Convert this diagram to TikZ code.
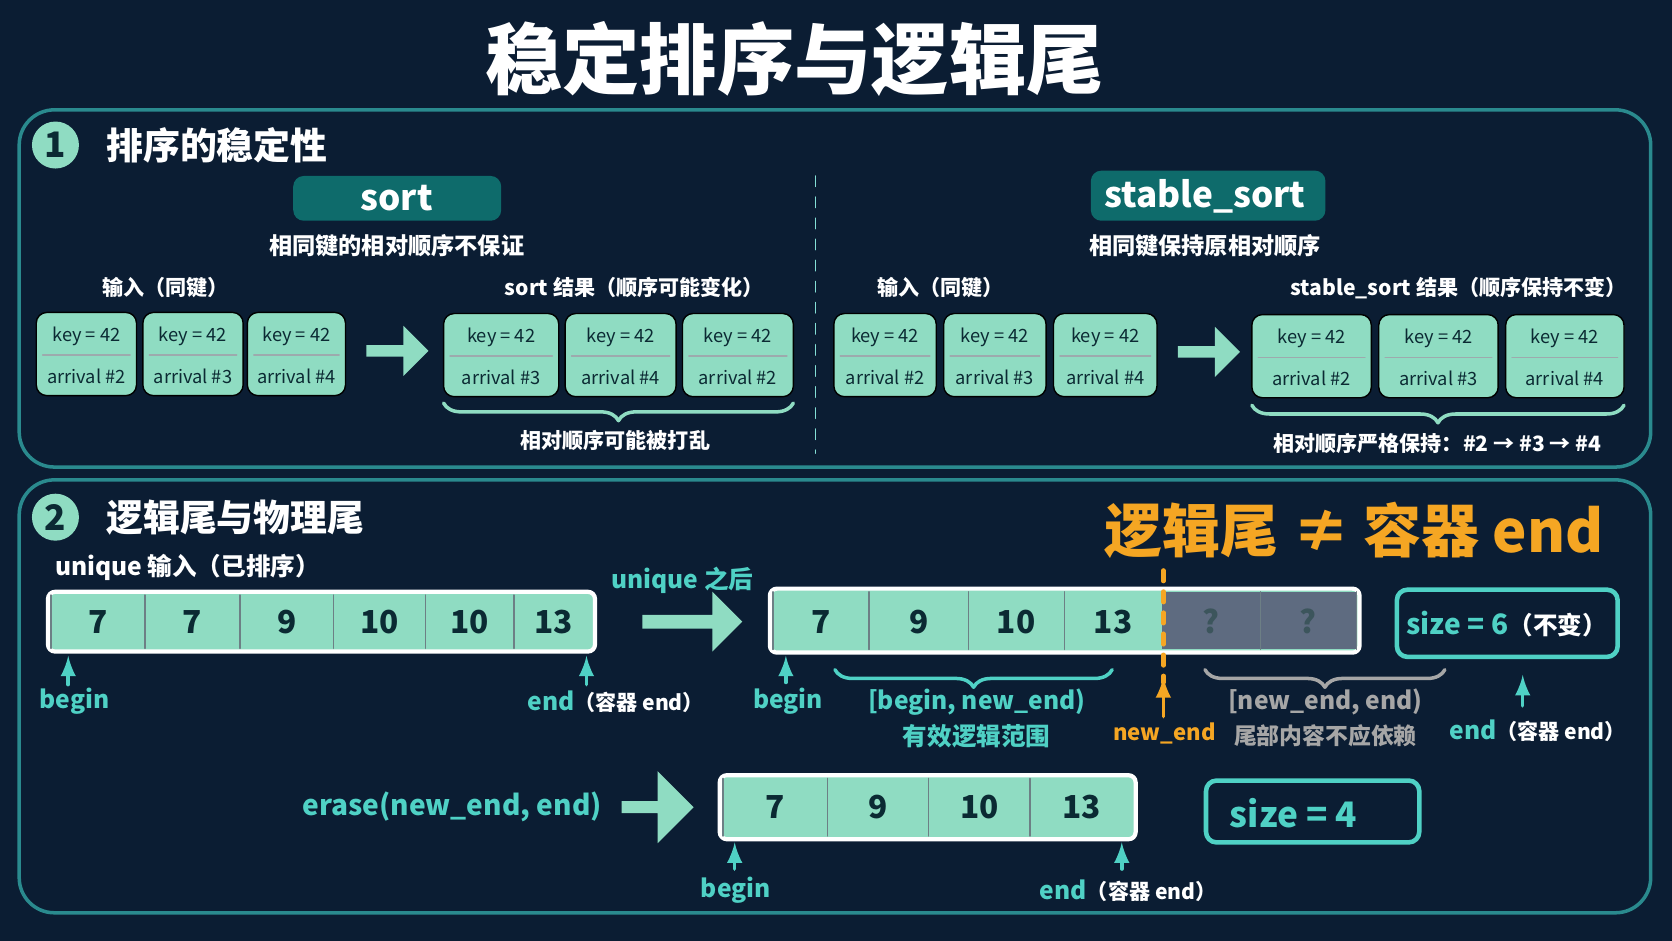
\documentclass[tikz,border=0pt]{standalone}
\usepackage{fontspec}
\setmainfont{Noto Sans CJK SC}
\usetikzlibrary{positioning,shapes.arrows,decorations.pathreplacing}
\definecolor{bg}{HTML}{0B1D33}
\definecolor{mint}{HTML}{8FDCC2}
\definecolor{teal}{HTML}{4FD1C5}
\definecolor{tealbox}{HTML}{0E6B6B}
\definecolor{frame}{HTML}{2A8A8E}
\definecolor{orng}{HTML}{F5A623}
\definecolor{grey}{HTML}{5E6B80}
\definecolor{ink}{HTML}{0B2A33}
\tikzset{
  panel/.style={draw=frame,line width=1pt,rounded corners=10pt},
  card/.style={fill=mint,rounded corners=3pt},
  cardtxt/.style={text=ink,font=\fontsize{5.2}{6}\selectfont},
  lbl/.style={text=white,font=\bfseries\fontsize{6}{7}\selectfont},
  tl/.style={text=teal,font=\bfseries\fontsize{7}{8}\selectfont},
  gl/.style={text=gray!70,font=\bfseries\fontsize{7}{8}\selectfont},
  num/.style={text=ink,font=\bfseries\fontsize{9}{11}\selectfont},
  blk/.style={single arrow,fill=mint,single arrow head extend=4pt,minimum height=0.62cm,minimum width=0.5cm,inner sep=1pt},
  up/.style={-latex,teal,line width=1pt},
  brc/.style={decorate,decoration={brace,mirror,amplitude=5pt},line width=1pt},
}
\newcommand*{\keycard}[5]{% x1, x2, top, name, arrival
    \draw[card] (#1,#3) rectangle (#2,#3+78);
    \draw[ink!40] (#1+6,#3+40) -- (#2-6,#3+40);
    \node[cardtxt] (#4k) at ({(#1+#2)/2},#3+22) {key = 42};
    \node[cardtxt] (#4a) at ({(#1+#2)/2},#3+60) {arrival \##5};
}
\begin{document}
\begin{tikzpicture}[x=0.01066cm,y=-0.01066cm,line cap=round,line join=round]
    \fill[bg] (0,0) rectangle (1568,882);
    \useasboundingbox (0,0) rectangle (1568,882);
    \node[text=white,font=\bfseries\fontsize{22}{25}\selectfont] (title) at (745,55) {稳定排序与逻辑尾};
    \draw[panel] (18,103) rectangle (1548,438);
    \draw[panel] (18,450) rectangle (1548,856);
    % panel 1
    \node[circle,fill=mint,text=ink,minimum size=0.47cm,inner sep=0,font=\bfseries\fontsize{10}{12}\selectfont] (c1) at (52,136) {1};
    \node[anchor=west,text=white,font=\bfseries\fontsize{10.5}{12}\selectfont] (h1) at (88,136) {排序的稳定性};
    \draw[teal!70,dashed] (765,165) -- (765,425);
    \fill[tealbox,rounded corners=3pt] (275,165) rectangle (470,207);
    \node[text=white,font=\bfseries\fontsize{10}{12}\selectfont] (sort) at (372,186) {sort};
    \node[lbl,font=\bfseries\fontsize{6.6}{8}\selectfont] (sortd) at (372,230) {相同键的相对顺序不保证};
    \fill[tealbox,rounded corners=3pt] (1023,160) rectangle (1243,207);
    \node[text=white,font=\bfseries\fontsize{10}{12}\selectfont] (ssort) at (1130,184) {stable\_sort};
    \node[lbl,font=\bfseries\fontsize{6.6}{8}\selectfont] (ssortd) at (1130,230) {相同键保持原相对顺序};
    \node[lbl] (in1) at (155,270) {输入（同键）};
    \node[lbl] (out1) at (595,270) {sort 结果（顺序可能变化）};
    \node[lbl] (in2) at (882,270) {输入（同键）};
    \node[lbl] (out2) at (1368,270) {stable\_sort 结果（顺序保持不变）};
    \keycard{34}{128}{293}{a}{2}
    \keycard{134}{228}{293}{b}{3}
    \keycard{232}{324}{293}{c}{4}
    \node[blk] (ar1) at (370,329) {};
    \keycard{416}{524}{294}{d}{3}
    \keycard{530}{634}{294}{e}{4}
    \keycard{640}{744}{294}{f}{2}
    \draw[brc,mint] (416,378) -- (744,378);
    \node[lbl] (br1) at (577,413) {相对顺序可能被打乱};
    \keycard{782}{878}{294}{g}{2}
    \keycard{885}{981}{294}{h}{3}
    \keycard{988}{1085}{294}{i}{4}
    \node[blk] (ar2) at (1131,330) {};
    \keycard{1174}{1286}{295}{j}{2}
    \keycard{1293}{1405}{295}{k}{3}
    \keycard{1412}{1523}{295}{l}{4}
    \draw[brc,mint] (1174,380) -- (1523,380);
    \node[lbl] (br2) at (1348,416) {相对顺序严格保持：\#2 → \#3 → \#4};
    % panel 2
    \node[circle,fill=mint,text=ink,minimum size=0.47cm,inner sep=0,font=\bfseries\fontsize{10}{12}\selectfont] (c2) at (52,485) {2};
    \node[anchor=west,text=white,font=\bfseries\fontsize{10.5}{12}\selectfont] (h2) at (88,485) {逻辑尾与物理尾};
    \node[text=orng,font=\bfseries\fontsize{16.5}{20}\selectfont] (ne) at (1270,497) {逻辑尾 ≠ 容器 end};
    \node[anchor=west,lbl,font=\bfseries\fontsize{7}{8}\selectfont] (uin) at (40,532) {unique 输入（已排序）};
    \draw[white,line width=1.2pt,rounded corners=2pt,fill=mint] (45,555) rectangle (558,611);
    \foreach \a/\b/\v [count=\i] in {48/136/7,136/225/7,225/313/9,313/399/10,399/482/10,482/556/13}{
        \draw[ink!60] (\a,558) -- (\a,608);
        \node[num] (u\i) at ({(\a+\b)/2},583) {\v};
    }
    \coordinate (ub) at (64,642);
    \coordinate (ue) at (550,642);
    \draw[up] (ub) -- (64,615);
    \draw[up] (ue) -- (550,615);
    \node[tl] (ubl) at (70,658) {begin};
    \node[tl,anchor=west] (uel) at (483,658) {end\textcolor{white}{\fontsize{6}{7}\selectfont（容器 end）}};
    \node[tl] (aft) at (640,544) {unique 之后};
    \node[blk,minimum height=1.0cm,minimum width=0.6cm] (ar3) at (646,583) {};
    \draw[white,line width=1.2pt,rounded corners=2pt,fill=mint] (722,552) rectangle (1275,612);
    \fill[grey] (1090,555) rectangle (1272,609);
    \foreach \a/\b/\v [count=\i] in {725/815/7,815/908/9,908/998/10,998/1090/13}{
        \draw[ink!60] (\a,555) -- (\a,609);
        \node[num] (v\i) at ({(\a+\b)/2},583) {\v};
    }
    \foreach \a/\b [count=\i] in {1090/1182,1182/1272}{
        \draw[ink!60] (\b,555) -- (\b,609);
        \node[num,text=ink!80] (q\i) at ({(\a+\b)/2},583) {?};
    }
    \draw[orng,dashed,line width=1.3pt] (1091,535) -- (1091,640);
    \coordinate (nb) at (1091,672);
    \draw[-latex,orng,line width=1pt] (nb) -- (1091,635);
    \node[text=orng,font=\bfseries\fontsize{6.3}{8}\selectfont] (nel) at (1092,688) {new\_end};
    \draw[up] (737,640) -- (737,615);
    \node[tl] (vbl) at (739,658) {begin};
    \draw[brc,teal] (783,628) -- (1043,628);
    \node[tl] (r1) at (916,658) {[begin, new\_end)};
    \node[tl] (r1b) at (916,690) {有效逻辑范围};
    \draw[brc,gray!70] (1130,628) -- (1355,628);
    \node[gl] (r2) at (1243,658) {[new\_end, end)};
    \node[gl,font=\bfseries\fontsize{6.5}{8}\selectfont] (r2b) at (1243,690) {尾部内容不应依赖};
    \draw[teal,line width=1.3pt,rounded corners=3pt] (1310,553) rectangle (1517,616);
    \node[tl,font=\bfseries\fontsize{8}{10}\selectfont] (s6) at (1413,585) {size = 6\textcolor{white}{\fontsize{7}{8}\selectfont（不变）}};
    \draw[up] (1428,662) -- (1428,633);
    \node[tl] (vel) at (1442,685) {end\textcolor{white}{\fontsize{6}{7}\selectfont（容器 end）}};
    % erase
    \node[tl,font=\bfseries\fontsize{8}{10}\selectfont] (er) at (424,757) {erase(new\_end, end)};
    \node[blk,minimum height=0.72cm,minimum width=0.72cm,single arrow head extend=6pt] (ar4) at (614,757) {};
    \draw[white,line width=1.2pt,rounded corners=2pt,fill=mint] (675,727) rectangle (1065,787);
    \foreach \a/\b/\v [count=\i] in {678/776/7,776/871/9,871/966/10,966/1062/13}{
        \draw[ink!60] (\a,730) -- (\a,784);
        \node[num] (w\i) at ({(\a+\b)/2},757) {\v};
    }
    \draw[up] (689,815) -- (689,790);
    \node[tl] (wbl) at (690,835) {begin};
    \draw[up] (1052,815) -- (1052,790);
    \node[tl] (wel) at (1058,835) {end\textcolor{white}{\fontsize{6}{7}\selectfont（容器 end）}};
    \draw[teal,line width=1.3pt,rounded corners=3pt] (1131,732) rectangle (1331,790);
    \node[tl,font=\bfseries\fontsize{10}{12}\selectfont] (s4) at (1213,763) {size = 4};
\end{tikzpicture}
\end{document}
